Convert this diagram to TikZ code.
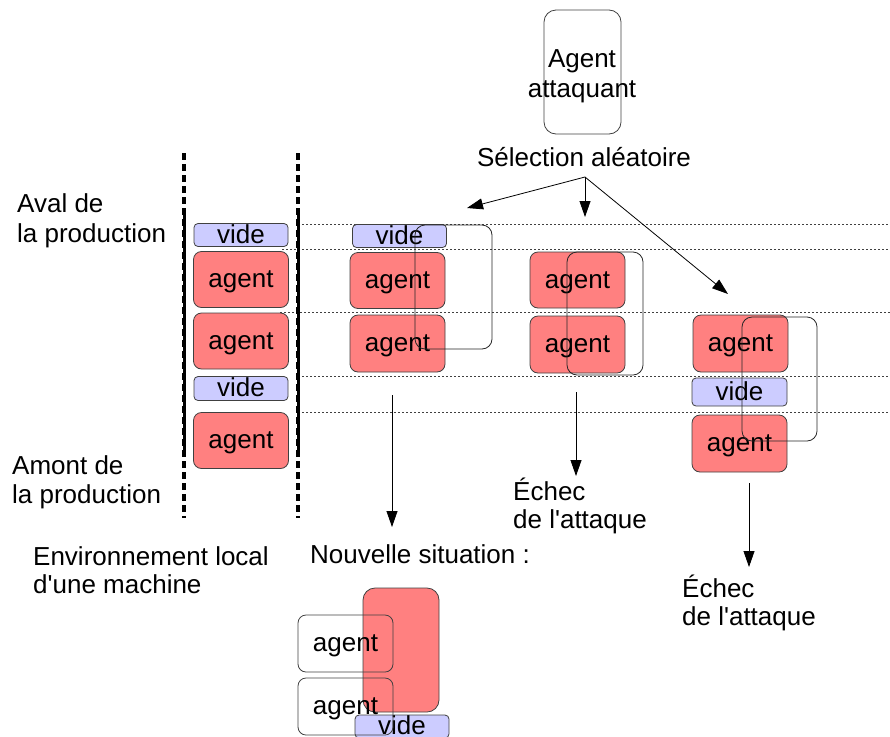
\documentclass[tikz,border=0pt]{standalone}
\usepackage{fontspec}
\setmainfont{Liberation Sans}
\usetikzlibrary{arrows.meta}
\definecolor{agentred}{HTML}{FF8080}
\definecolor{videblue}{HTML}{CCCCFF}
\definecolor{edgegray}{HTML}{404040}
\begin{document}
\begin{tikzpicture}[x=1pt,y=-1pt,
  font=\fontsize{26}{30}\selectfont,
  cellbox/.style={draw=edgegray, line width=0.8pt, rounded corners=8pt, inner sep=0pt, text height=16pt, text depth=0pt},
  agentbox/.style={cellbox, fill=agentred, minimum width=95pt, minimum height=56pt},
  hollowbox/.style={cellbox, minimum width=95pt, minimum height=57pt},
  videbox/.style={cellbox, fill=videblue, rounded corners=4pt, minimum width=94pt, minimum height=23pt},
  selbox/.style={draw=black!85, line width=0.8pt, rounded corners=10pt, inner sep=0pt},
  levelline/.style={draw=black!75, line width=0.8pt, dash pattern=on 2pt off 2pt},
  arr/.style={draw=black, line width=0.8pt, -{Triangle[length=16pt,width=11pt]}},
  lbl/.style={inner sep=0pt, anchor=base west},
  clbl/.style={inner sep=0pt, anchor=base},
  wall/.style={line width=4pt, dash pattern=on 7pt off 4pt},
  wallsolid/.style={line width=3pt},
]
\useasboundingbox (0,0) rectangle (890,736);
\clip (0,0) rectangle (890,736);

% level lines
\coordinate (l1a) at (298,224); \coordinate (l1b) at (890,224);
\coordinate (l2a) at (282,249); \coordinate (l2b) at (890,249);
\coordinate (l3a) at (280,312); \coordinate (l3b) at (890,312);
\coordinate (l4a) at (298,376); \coordinate (l4b) at (890,376);
\coordinate (l5a) at (298,412); \coordinate (l5b) at (890,412);
\draw[levelline] (l1a) -- (l1b);
\draw[levelline] (l2a) -- (l2b);
\draw[levelline] (l3a) -- (l3b);
\draw[levelline] (l4a) -- (l4b);
\draw[levelline] (l5a) -- (l5b);

% walls of the local environment
\coordinate (wla) at (184,153); \coordinate (wlb) at (184,518);
\coordinate (wlc) at (184,215); \coordinate (wld) at (184,455);
\coordinate (wra) at (298,153); \coordinate (wrb) at (298,518);
\coordinate (wrc) at (298,215); \coordinate (wrd) at (298,455);
\draw[wall] (wla) -- (wlb);
\draw[wallsolid] (wlc) -- (wld);
\draw[wall] (wra) -- (wrb);
\draw[wallsolid] (wrc) -- (wrd);

% left column
\node[videbox] (v1) at (241,235) {vide};
\node[agentbox] (a1) at (241,279.5) {agent};
\node[agentbox] (a2) at (241,341) {agent};
\node[videbox, minimum height=24pt] (v2) at (241,388.5) {vide};
\node[agentbox] (a3) at (241,440.5) {agent};

% attacker
\node[selbox, draw=edgegray, rounded corners=12pt, minimum width=77pt, minimum height=124pt] (att) at (582.5,72) {};
\node[clbl] (attt1) at (582,67) {Agent};
\node[clbl] (attt2) at (582,97) {attaquant};
\node[clbl] (sel) at (584,166) {Sélection aléatoire};
\coordinate (s) at (585,177);
\coordinate (t1) at (467,208);
\coordinate (t2) at (585,217);
\coordinate (t3) at (728,294);
\draw[arr] (s) -- (t1);
\draw[arr] (s) -- (t2);
\draw[arr] (s) -- (t3);

% column 2
\node[videbox] (c2v) at (399.5,236) {vide};
\node[agentbox] (c2a) at (397.5,280.5) {agent};
\node[agentbox, minimum height=57pt] (c2b) at (397.5,343.5) {agent};
\node[selbox, minimum width=77pt, minimum height=124pt] (c2s) at (453.5,287) {};

% column 3
\node[agentbox] (c3a) at (577.5,280) {agent};
\node[agentbox, minimum height=57pt] (c3b) at (577.5,344.5) {agent};
\node[selbox, minimum width=76pt, minimum height=123pt] (c3s) at (605,313.5) {};

% column 4
\node[agentbox, minimum height=57pt] (c4a) at (740.5,343.5) {agent};
\node[videbox, minimum width=95pt, minimum height=28pt] (c4v) at (739.5,392) {vide};
\node[agentbox, minimum height=57pt] (c4b) at (739.5,443.5) {agent};
\node[selbox, minimum width=75pt, minimum height=124pt] (c4s) at (779.5,379) {};

% down arrows
\coordinate (d2a) at (392,395); \coordinate (d2b) at (392,527);
\coordinate (d3a) at (576,392); \coordinate (d3b) at (576,476);
\coordinate (d4a) at (749,483); \coordinate (d4b) at (749,567);
\draw[arr] (d2a) -- (d2b);
\draw[arr] (d3a) -- (d3b);
\draw[arr] (d4a) -- (d4b);

% labels
\node[lbl] (aval1) at (17,212) {Aval de};
\node[lbl] (aval2) at (17,242) {la production};
\node[lbl] (amont1) at (12,474) {Amont de};
\node[lbl] (amont2) at (12,503) {la production};
\node[lbl] (env1) at (33,565) {Environnement local};
\node[lbl] (env2) at (33,593) {d\textquotesingle une machine};
\node[lbl] (nouv) at (310,563) {Nouvelle situation :};
\node[lbl] (ech1a) at (513,500) {Échec};
\node[lbl] (ech1b) at (513,528) {de l\textquotesingle attaque};
\node[lbl] (ech2a) at (682,597) {Échec};
\node[lbl] (ech2b) at (682,625) {de l\textquotesingle attaque};

% new situation
\node[cellbox, fill=agentred, rounded corners=12pt, minimum width=76pt, minimum height=124pt] (red) at (401,650) {};
\node[videbox, minimum height=23pt] (nv) at (402,726.5) {vide};
\node[hollowbox] (na) at (345.5,643.5) {agent};
\node[hollowbox] (nb) at (345.5,706.5) {agent};
\end{tikzpicture}
\end{document}
